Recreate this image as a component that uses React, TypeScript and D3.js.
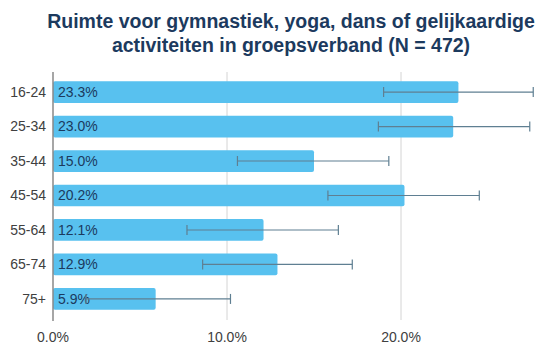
import * as d3 from "d3";

const ageGroups = ["16-24", "25-34", "35-44", "45-54", "55-64", "65-74", "75+"];
const shares = [23.3, 23.0, 15.0, 20.2, 12.1, 12.9, 5.9];
const lowerBounds = [19.0, 18.7, 10.6, 15.8, 7.7, 8.6, 1.9];
const upperBounds = [27.6, 27.4, 19.3, 24.5, 16.4, 17.2, 10.2];
const xTicks = [0, 10, 20];

const titleLines = [
    "Ruimte voor gymnastiek, yoga, dans of gelijkaardige",
    "activiteiten in groepsverband (N = 472)",
];

const width = 542;
const height = 345;
const marginLeft = 53;
const marginTop = 75;
const chartBottom = 316;

export default function App() {
    const x = d3.scaleLinear([0, 10], [marginLeft, 227]);
    const y = d3.scaleBand(ageGroups, [marginTop, chartBottom]).paddingInner(0.37).paddingOuter(0.18);
    const font = "Arial, 'Liberation Sans', sans-serif";

    const rows = ageGroups.map((g, i) => ({
        group: g,
        value: shares[i],
        lo: lowerBounds[i],
        hi: upperBounds[i],
    }));

    return <div style={{position: "absolute", left: 0, top: 0}}>
        <svg width={width} height={height} viewBox={`0 0 ${width} ${height}`} style={{display: "block", background: "#fff"}}>
            {titleLines.map((t, i) =>
                <text key={i} x={291} y={28 + i * 24} textAnchor="middle" fontFamily={font}
                      fontSize={19.5} fontWeight="bold" fill="#1c3a5e">{t}</text>)}

            {xTicks.slice(1).map(t =>
                <line key={t} x1={x(t)} x2={x(t)} y1={72} y2={chartBottom + 4} stroke="#d4d4d4" strokeWidth={1}/>)}

            {rows.map(r => {
                const by = y(r.group)!;
                const bh = y.bandwidth();
                const cy = by + bh / 2;
                return <g key={r.group}>
                    <rect x={x(0)} y={by} width={x(r.value) - x(0)} height={bh} rx={2} fill="#58c1ef"/>
                    <text x={46} y={cy} dy="0.35em" textAnchor="end" fontFamily={font} fontSize={14}
                          fill="#404040">{r.group}</text>
                    <text x={58} y={cy} dy="0.35em" fontFamily={font} fontSize={14} fill="#1c3a5e">
                        {r.value.toFixed(1)}%</text>
                    <line x1={x(r.lo)} x2={x(r.hi)} y1={cy} y2={cy} stroke="#5f7f92" strokeWidth={1.2}/>
                    <line x1={x(r.lo)} x2={x(r.lo)} y1={cy - 5} y2={cy + 5} stroke="#5f7f92" strokeWidth={1.2}/>
                    <line x1={x(r.hi)} x2={x(r.hi)} y1={cy - 5} y2={cy + 5} stroke="#5f7f92" strokeWidth={1.2}/>
                </g>;
            })}

            <line x1={x(0)} x2={x(0)} y1={72} y2={chartBottom + 5} stroke="#888" strokeWidth={1.5}/>

            {xTicks.map(t =>
                <text key={t} x={x(t)} y={342} textAnchor="middle" fontFamily={font} fontSize={14}
                      fill="#404040">{t.toFixed(1)}%</text>)}
        </svg>
    </div>;
}
